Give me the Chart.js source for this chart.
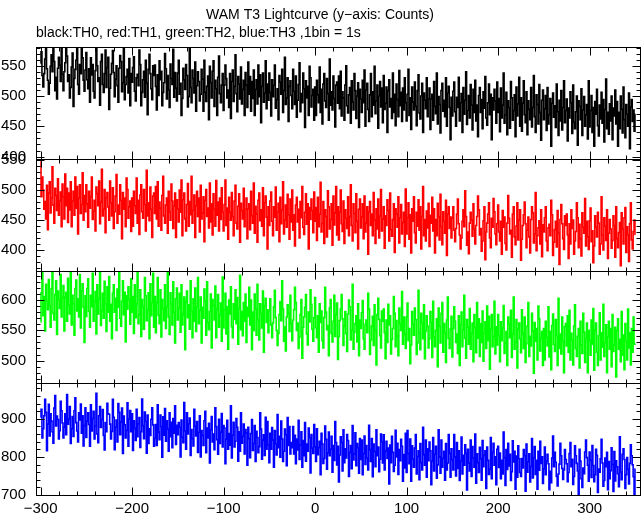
<!DOCTYPE html>
<html><head><meta charset="utf-8">
<script src="https://cdn.jsdelivr.net/npm/chart.js@4.4.1/dist/chart.umd.min.js"></script>
<style>html,body{margin:0;padding:0;background:#fff;}#wrap{width:643px;height:515px;position:relative;}</style>
</head><body><div id="wrap"><canvas id="c" width="643" height="515"></canvas></div>
<script>
// time of first bin (s); 1 bin = 1 s
const binStart = -300;
const binWidth = 1;

// TH0 (black) counts per bin
const th0 = [
554,573,534,515,537,561,586,545,526,503,521,549,568,540,600,557,509,531,495,546,564,551,524,578,536,
509,540,555,589,566,524,535,497,514,548,571,483,529,544,559,578,519,503,552,537,585,563,526,508,543,
572,527,512,545,490,563,535,552,508,497,542,588,550,524,530,485,557,569,519,506,537,576,514,547,564,
478,513,536,554,575,539,499,528,550,517,490,546,567,557,507,522,591,494,519,532,544,505,562,484,537,
523,547,565,508,492,530,536,517,576,552,484,506,527,541,498,559,521,469,544,569,537,512,494,550,534,
551,516,477,535,501,558,527,541,484,506,522,570,545,495,534,510,481,553,529,519,577,498,539,513,492,
538,559,503,521,468,496,546,527,511,552,534,482,499,578,514,489,543,529,505,556,475,517,540,524,492,
503,544,528,475,559,506,491,516,533,461,549,522,497,541,558,483,526,512,468,531,566,504,489,518,537,
476,518,551,529,497,510,481,537,463,524,543,491,516,568,504,474,532,520,495,548,487,511,526,468,539,
518,481,556,503,532,475,524,496,543,468,511,527,487,551,499,535,456,516,538,490,505,558,479,520,493,
538,506,467,527,499,518,551,480,494,512,461,534,523,503,544,473,509,564,486,497,530,458,516,525,501,
479,544,508,486,533,465,493,519,555,474,504,489,538,512,448,525,497,516,468,549,530,482,501,511,460,
515,468,526,502,489,548,473,511,454,520,537,492,481,529,504,460,561,485,507,477,533,496,449,518,523,
488,533,479,541,467,507,497,460,518,550,484,472,502,514,455,525,490,477,537,509,463,500,522,448,511,
495,473,526,489,543,450,510,521,478,458,502,537,466,507,485,549,471,492,518,447,500,524,482,513,456,
534,478,488,515,440,509,527,482,496,463,538,473,503,451,520,494,466,542,484,506,458,513,477,530,489,
459,503,544,468,497,445,515,490,477,523,483,451,509,535,472,462,500,521,440,505,493,479,530,466,495,
513,445,495,503,460,524,483,471,538,454,499,486,439,509,521,475,493,466,530,450,505,516,481,428,498,
467,508,523,474,450,498,481,531,459,489,504,440,514,470,493,540,453,476,501,464,519,485,444,511,473,
526,459,485,433,501,514,473,494,446,507,480,532,464,452,489,520,469,503,428,497,477,511,492,455,523,
473,496,441,513,464,485,538,455,469,506,436,492,481,447,524,497,460,476,502,433,515,467,487,531,450,
497,442,488,525,469,456,507,436,492,478,461,514,449,481,534,466,440,502,486,454,519,473,427,493,510,
461,479,501,443,514,454,469,496,417,488,505,465,484,448,520,474,435,493,459,509,444,481,525,456,476,
495,426,480,464,507,489,438,518,457,446,474,500,419,492,483,461,512,435,477,499,450,469,486,429,525,
449,476,501,440,481,417,491,470,511,451,434,485,462,506,455,494,424,478,528,446,473,437,487,459,500,
428,480,467,510,454,491,417,473,446,500,478,439,515,461,431,486,470,450,505,413,482,494,458,477,442,
470];

// TH1 (red) counts per bin
const th1 = [
548,489,522,500,468,481,452,508,434,495,514,462,487,539,475,445,503,491,466,519,458,482,497,439,510,
489,452,527,474,503,446,495,467,514,439,482,498,458,522,470,506,427,487,509,461,476,529,450,491,464,
509,477,438,498,470,489,522,451,465,483,432,505,494,474,515,444,480,535,457,468,501,429,487,496,472,
450,515,479,457,504,436,464,490,526,445,475,460,509,483,419,496,468,487,439,520,501,453,472,482,431,
487,440,498,474,461,520,445,483,426,492,509,464,453,501,476,432,533,457,479,449,505,468,421,490,495,
461,506,452,514,440,480,470,433,491,523,457,445,475,487,428,498,463,450,510,482,436,473,495,421,484,
469,447,500,463,517,424,484,495,452,432,476,511,440,481,459,523,445,466,492,421,474,498,456,487,430,
508,452,462,489,414,483,501,456,470,437,512,447,477,425,494,468,440,516,458,480,432,487,451,504,463,
432,476,517,441,470,418,488,463,450,496,456,424,482,508,445,435,473,494,413,478,466,452,503,439,468,
487,419,469,477,434,498,457,445,512,428,473,460,413,483,495,449,467,440,504,424,479,490,455,402,472,
441,482,497,448,424,472,455,505,433,463,478,414,488,444,467,514,427,450,475,438,493,459,418,485,447,
500,433,459,407,475,488,447,468,420,481,454,506,438,426,463,494,443,477,402,471,451,485,466,429,497,
448,471,416,488,439,460,513,430,444,481,411,467,456,422,499,472,435,451,477,408,490,442,462,506,425,
472,417,463,500,444,431,482,411,467,453,436,489,424,456,509,441,415,477,461,429,494,448,402,468,485,
437,455,477,419,490,430,445,472,393,464,481,441,460,424,496,450,411,469,435,485,420,457,501,432,452,
472,403,457,441,484,466,415,495,434,423,451,477,396,469,460,438,489,412,454,476,427,446,463,406,502,
427,454,479,418,459,395,469,448,489,429,412,463,440,484,433,472,402,456,506,424,451,415,465,437,478,
406,458,445,488,432,469,395,451,424,478,456,417,493,439,409,464,448,428,483,391,460,472,436,455,420,
453,472,433,414,436,460,485,444,425,402,420,448,467,439,499,456,408,430,394,445,463,450,423,477,435,
410,441,456,490,467,425,436,398,415,449,472,384,430,445,460,479,420,404,453,438,486,464,427,409,444,
475,430,415,448,393,466,438,455,411,400,445,491,453,427,433,388,460,472,422,409,440,479,417,450,467,
383,418,441,459,480,444,404,433,455,422,395,451,472,462,412,427,496,399,424,437,449,410,467,389,442,
430,454,472,415,399,437,443,424,483,459,391,413,434,448,405,466,428,376,451,476,444,419,401,457,441,
460,425,386,444,410,467,436,450,393,415,431,479,454,404,443,419,390,462,438,428,486,407,448,422,401,
449,470,414,432,379,407,457,438,422,463,445,393,410,489,425,400,454,440,416,467,386,428,451,435,403,
416,457,441,388,472,419,404,429,446,374,462,435,410,454,471,396,439,425,381,444,479,417,402,431,450,
426];

// TH2 (green) counts per bin
const th2 = [
564,612,658,574,606,549,626,598,584,634,590,555,619,648,578,567,609,632,543,615,601,586,642,572,604,
624,549,604,613,565,636,591,577,651,559,608,594,542,619,633,582,602,572,642,554,615,627,588,530,607,
573,619,635,581,555,608,589,644,565,598,614,544,625,577,602,654,558,583,611,570,631,593,548,622,580,
639,565,593,536,611,625,580,603,550,618,588,645,570,557,598,632,576,613,531,607,585,622,601,560,635,
580,606,545,625,571,594,652,561,576,617,540,601,589,552,637,607,566,584,612,536,627,574,596,644,555,
606,546,596,637,575,561,617,539,601,585,566,625,553,589,647,572,543,612,594,559,630,580,529,602,620,
567,587,611,547,625,559,576,605,518,597,615,571,592,552,632,581,538,602,565,620,548,589,637,561,583,
605,529,588,570,618,598,542,630,563,551,581,610,521,601,591,567,623,538,585,609,555,576,595,532,638,
554,584,611,544,589,519,600,577,622,556,538,594,568,617,561,604,527,586,641,551,581,541,596,565,610,
530,588,573,621,559,600,518,580,550,610,585,542,626,567,534,594,577,554,615,514,590,603,563,584,546,
581,602,559,538,562,589,616,571,550,525,545,576,597,566,632,585,532,556,516,572,592,578,548,608,561,
533,567,584,621,596,550,562,520,539,576,601,504,555,572,588,609,544,526,580,564,617,593,552,532,571,
604,554,538,574,514,594,563,582,533,521,571,621,580,551,558,508,587,601,545,531,565,608,540,576,595,
502,540,566,585,609,569,525,557,581,545,515,577,600,589,534,550,626,519,547,561,574,531,594,508,567,
553,579,599,536,519,560,567,546,611,585,510,534,557,573,525,592,550,493,576,603,568,541,521,582,565,
585,546,503,567,530,593,559,574,511,535,553,606,578,523,566,540,508,587,561,550,614,527,572,543,520,
572,595,533,553,495,526,581,560,542,587,568,510,529,616,546,518,578,562,536,592,503,549,574,557,521,
536,581,563,505,598,539,523,550,569,490,587,557,529,578,596,514,561,546,497,567,605,537,520,552,573,
506,553,589,565,530,544,512,574,492,559,580,523,551,608,537,504,568,555,527,586,519,545,562,498,576,
554,513,596,537,569,507,561,530,582,499,546,564,520,590,533,573,486,552,576,523,540,598,511,556,526,
576,541,498,564,533,554,591,512,528,548,492,572,560,538,583,505,544,605,519,531,568,488,552,562,536,
513,584,545,520,572,497,528,557,596,507,540,524,578,549,479,563,532,553,501,590,569,516,537,548,492,
553,501,565,538,524,589,506,548,485,558,577,527,515,568,541,492,603,520,544,511,572,532,480,556,561,
524,574,514,583,501,545,534,493,557,592,520,507,540,553,488,565,526,512,578,547,497,537,562,480,550,
533,509,567,527,586,484,550,562,514,492,541,579,501,546,522,593,507,530,559,480,539,565,519,553,490,
576,515,526,555,473,549,569,519,535,498,581,509,542,485,561,532,501,585,521,546,493,553,514,572,527,
528];

// TH3 (blue) counts per bin
const th3 = [
904,925,850,874,908,951,917,816,886,938,855,913,894,866,836,928,961,881,907,898,847,869,946,921,889,
850,878,913,858,964,886,899,932,835,874,906,854,921,955,890,868,839,916,897,939,862,908,829,882,929,
851,894,916,885,828,937,868,901,920,847,881,967,860,837,908,932,877,898,924,856,818,890,866,941,913,
912,886,847,867,951,904,819,878,897,839,940,917,858,892,928,809,907,884,850,870,942,828,900,922,866,
913,817,895,875,843,925,853,887,903,825,866,952,882,848,918,893,810,910,835,874,856,899,929,884,828,
849,885,830,937,865,845,910,880,799,905,857,927,841,895,873,815,916,853,891,824,901,862,934,833,883,
858,890,878,800,897,852,837,943,868,820,916,860,887,902,804,872,848,829,925,881,855,893,812,864,908,
800,869,856,830,895,920,811,876,850,888,784,871,906,839,860,819,929,880,845,807,899,835,865,914,826,
882,876,782,846,896,820,861,831,934,797,857,891,826,841,901,878,789,866,815,916,836,854,886,808,872,
863,778,878,848,798,861,898,817,835,882,788,867,851,811,827,916,873,794,844,858,804,904,820,893,832,
785,862,820,877,844,773,869,834,805,911,824,854,799,894,847,788,815,873,858,777,903,830,880,808,838,
824,880,808,857,782,847,818,896,793,831,866,773,843,803,890,789,834,815,876,851,758,859,823,809,885,
827,788,874,806,824,841,753,862,834,783,796,881,846,768,811,865,803,820,854,760,830,791,893,838,779,
828,734,805,853,838,763,871,785,821,797,859,843,749,812,830,769,882,792,808,863,777,835,824,757,848,
793,844,753,809,855,780,830,797,766,883,819,788,848,748,834,814,774,871,803,826,761,794,860,840,784,
858,766,816,841,796,823,729,831,785,854,812,762,778,870,800,836,754,819,790,846,828,736,806,771,862,
759,869,809,782,847,736,829,794,773,823,859,755,801,816,740,835,785,766,878,806,778,844,747,821,790,
839,816,727,789,851,763,807,828,744,779,871,800,757,844,773,796,815,739,835,766,784,859,809,747,821,
793,766,859,800,750,838,770,816,738,790,852,755,804,778,832,809,713,820,784,763,844,749,827,797,773,
860,731,808,785,759,825,795,739,843,774,804,816,717,826,791,754,768,851,743,812,836,778,800,727,820,
828,772,810,743,791,755,865,798,725,819,767,836,776,807,738,761,842,787,815,715,802,747,829,795,759,
749,796,771,819,803,710,834,760,787,808,734,775,848,745,798,827,754,791,715,815,765,841,783,800,730,
769,826,753,789,807,782,714,762,732,797,855,774,812,786,749,724,755,781,836,803,770,741,766,819,793,
782,735,759,809,838,774,794,728,749,829,803,783,763,701,820,789,743,720,771,756,813,844,798,778,736,
813,791,746,830,777,735,753,820,804,707,768,760,795,846,784,723,738,797,774,812,714,788,743,764,824,
780,709,814,737,790,774,756,722,853,760,740,807,821,793,717,753,798,768,729,783,832,803,779,748,701,
768];

// tick labels
const xTicks = [-300, -200, -100, 0, 100, 200, 300];
const th0Ticks = [400, 450, 500, 550];
const th1Ticks = [400, 450, 500, 550];
const th2Ticks = [500, 550, 600];
const th3Ticks = [700, 800, 900];

const titleText = 'WAM T3 Lightcurve (y\u2212axis: Counts)';
const subtitleText = 'black:TH0, red:TH1, green:TH2, blue:TH3 ,1bin = 1s';

const FONT = '"Liberation Sans", Arial, Helvetica, sans-serif';

const panels = [
  {id: 'y0', data: th0, color: '#000000', min: 396, max: 581, ticks: th0Ticks, minor: 10},
  {id: 'y1', data: th1, color: '#ff0000', min: 365, max: 552, ticks: th1Ticks, minor: 10},
  {id: 'y2', data: th2, color: '#00ff00', min: 463, max: 648, ticks: th2Ticks, minor: 10},
  {id: 'y3', data: th3, color: '#0000ff', min: 700, max: 994, ticks: th3Ticks, minor: 20}
];

const minus = v => (v < 0 ? '\u2212' + Math.abs(v) : String(v));

const scales = {
  x: {
    type: 'linear', position: 'bottom', min: -305, max: 355,
    grid: {display: false, drawTicks: false}, border: {display: false},
    afterBuildTicks: s => { s.ticks = xTicks.map(v => ({value: v})); },
    afterFit: s => { s.height = 20; },
    ticks: {font: {family: FONT, size: 15}, color: '#000', padding: 5, maxRotation: 0, autoSkip: false, callback: v => minus(v)}
  }
};
// bottom panel defined first so that the stack order puts TH0 at the top
[...panels].reverse().forEach(p => {
  scales[p.id] = {
    type: 'linear', position: 'left', stack: 'panels', stackWeight: 1,
    min: p.min, max: p.max,
    grid: {display: false, drawTicks: false}, border: {display: false},
    afterBuildTicks: s => { s.ticks = p.ticks.map(v => ({value: v})); },
    afterFit: s => { s.width = 36; },
    ticks: {font: {family: FONT, size: 15}, color: '#000', padding: 10, autoSkip: false, callback: v => String(v)}
  };
});

const deco = {
  id: 'deco',
  beforeDatasetDraw(chart, args) {
    const ys = chart.scales[args.meta.yAxisID];
    const ca = chart.chartArea, ctx = chart.ctx;
    ctx.save();
    ctx.beginPath();
    ctx.rect(ca.left, ys.top, ca.right - ca.left, ys.bottom - ys.top);
    ctx.clip();
  },
  afterDatasetDraw(chart) { chart.ctx.restore(); },
  afterDraw(chart) {
    const ctx = chart.ctx, ca = chart.chartArea, xs = chart.scales.x;
    const L = Math.round(ca.left) + 0.5, R = Math.round(ca.right) + 0.5;
    const seg = (x1, y1, x2, y2) => { ctx.beginPath(); ctx.moveTo(x1, y1); ctx.lineTo(x2, y2); ctx.stroke(); };
    ctx.save();
    ctx.strokeStyle = '#000';
    ctx.lineWidth = 1;
    panels.forEach(p => {
      const ys = chart.scales[p.id];
      const T = Math.round(ys.top) + 0.5, B = Math.round(ys.bottom) + 0.5;
      ctx.strokeRect(L, T, R - L, B - T);
      for (let v = Math.ceil(p.min / p.minor) * p.minor; v <= p.max; v += p.minor) {
        const y = Math.round(ys.getPixelForValue(v)) + 0.5;
        const len = p.ticks.includes(v) ? 8 : 4;
        seg(L, y, L + len, y);
        seg(R, y, R - len, y);
      }
      for (let v = -300; v <= 355; v += 20) {
        const x = Math.round(xs.getPixelForValue(v)) + 0.5;
        const len = xTicks.includes(v) ? 8 : 4;
        seg(x, T, x, T + len);
        seg(x, B, x, B - len);
      }
    });
    ctx.restore();
  }
};

new Chart(document.getElementById('c'), {
  type: 'line',
  data: {
    datasets: panels.map(p => ({
      label: p.id,
      yAxisID: p.id,
      data: p.data.map((v, i) => ({x: binStart + i * binWidth, y: v})),
      borderColor: p.color,
      borderWidth: 1.6,
      pointRadius: 0,
      fill: false,
      tension: 0,
      stepped: 'middle',
      borderJoinStyle: 'miter'
    }))
  },
  options: {
    responsive: false,
    animation: false,
    devicePixelRatio: 1,
    layout: {autoPadding: false, padding: {left: 0, right: 3, top: 0, bottom: 0}},
    scales: scales,
    plugins: {
      legend: {display: false},
      tooltip: {enabled: false},
      title: {display: true, text: titleText, color: '#000', align: 'center',
        font: {family: FONT, size: 14, weight: 'normal', lineHeight: 1.2}, padding: {top: 7, bottom: 0}},
      subtitle: {display: true, text: subtitleText, color: '#000', align: 'start', fullSize: false,
        font: {family: FONT, size: 14, weight: 'normal', lineHeight: 1.2}, padding: {top: 1, bottom: 5.4}}
    }
  },
  plugins: [deco]
});
</script>
</body></html>
